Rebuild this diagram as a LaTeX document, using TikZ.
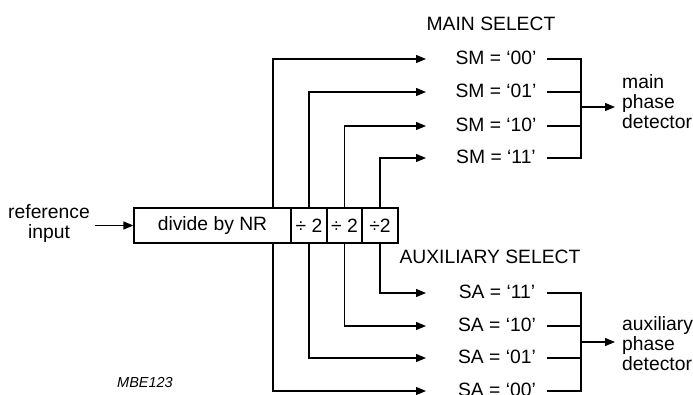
\documentclass[tikz,border=0pt]{standalone}
\usepackage{fontspec}
\setmainfont{Liberation Sans}
\usetikzlibrary{arrows.meta,calc}
\begin{document}
\begin{tikzpicture}[x=1pt,y=-1pt,
  lbl/.style={inner sep=0pt, font=\fontsize{19.3}{20}\selectfont},
  wire/.style={line width=1.2pt},
  arr/.style={wire, -{Triangle[length=10pt,width=8pt]}},
  blk/.style={draw, line width=1.2pt, minimum height=35pt, inner sep=0pt, font=\fontsize{19.3}{20}\selectfont},
]
\useasboundingbox (0,0) rectangle (693,395);
% divider chain
\node[blk, minimum width=157pt] (nr) at (212.5,225.5) {divide by NR};
\node[blk, minimum width=36pt] (d1) at (309,225.5) {÷ 2};
\node[blk, minimum width=35pt] (d2) at (344.5,225.5) {÷ 2};
\node[blk, minimum width=36pt] (d3) at (380,225.5) {÷2};
\coordinate (t0) at (273,225.5);
% reference input
\node[lbl, align=center] (ri) at (49,223.5) {reference\\input};
\draw[arr, shorten <=5pt] (ri.east |- nr.west) -- (nr.west);
% headings
\node[lbl] (msel) at (491,23.5) {MAIN SELECT};
\node[lbl] (asel) at (490,256.5) {AUXILIARY SELECT};
% main select labels
\node[lbl] (sm0) at (496,57.5) {SM = ‘00’};
\node[lbl] (sm1) at (496,90.5) {SM = ‘01’};
\node[lbl] (sm2) at (496,124.5) {SM = ‘10’};
\node[lbl] (sm3) at (496,156.5) {SM = ‘11’};
\coordinate (am0) at (426,59);
\coordinate (am1) at (426,92);
\coordinate (am2) at (426,126);
\coordinate (am3) at (426,158);
\coordinate (em0) at (547,59);
\coordinate (em1) at (547,92);
\coordinate (em2) at (547,126);
\coordinate (em3) at (547,158);
\coordinate (bxm) at (581,107);
% aux select labels
\node[lbl] (sa3) at (497,291.5) {SA = ‘11’};
\node[lbl] (sa2) at (497,324.5) {SA = ‘10’};
\node[lbl] (sa1) at (497,356.5) {SA = ‘01’};
\node[lbl] (sa0) at (497,389.5) {SA = ‘00’};
\coordinate (aa3) at (426,293);
\coordinate (aa2) at (426,326);
\coordinate (aa1) at (426,358);
\coordinate (aa0) at (426,391);
\coordinate (ea3) at (547,293);
\coordinate (ea2) at (547,326);
\coordinate (ea1) at (547,358);
\coordinate (ea0) at (547,391);
\coordinate (bxa) at (581,342);
% detectors
\node[lbl, align=left, anchor=west] (mpd) at (622,102) {main\\phase\\detector};
\node[lbl, align=left, anchor=west] (apd) at (622,343.5) {auxiliary\\phase\\detector};
% taps to main
\draw[arr] (t0 |- nr.north) |- (am0);
\draw[arr] (d1.north) |- (am1);
\draw[arr] (d2.north) |- (am2);
\draw[arr] (d3.north) |- (am3);
% taps to aux
\draw[arr] (d3.south) |- (aa3);
\draw[arr] (d2.south) |- (aa2);
\draw[arr] (d1.south) |- (aa1);
\draw[arr] (t0 |- nr.south) |- (aa0);
% main bracket
\draw[wire] (em0) -- (em0 -| bxm) -- (em3 -| bxm) -- (em3);
\draw[wire] (em1) -- (em1 -| bxm);
\draw[wire] (em2) -- (em2 -| bxm);
\draw[arr] (bxm) -- (bxm -| 615,0);
% aux bracket
\draw[wire] (ea3) -- (ea3 -| bxa) -- (ea0 -| bxa) -- (ea0);
\draw[wire] (ea2) -- (ea2 -| bxa);
\draw[wire] (ea1) -- (ea1 -| bxa);
\draw[arr] (bxa) -- (bxa -| 615,0);
% code
\node[inner sep=0pt, font=\fontsize{14.5}{16}\selectfont\itshape] (code) at (145,383) {MBE123};
\end{tikzpicture}
\end{document}
